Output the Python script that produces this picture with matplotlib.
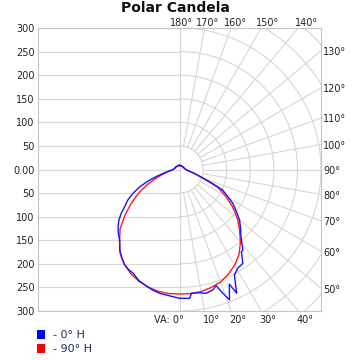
import numpy as np
import matplotlib
matplotlib.use("Agg")
import matplotlib.pyplot as plt
from matplotlib.patches import Patch

# vertical angle (deg, 0 = straight down) and candela
# blue = 0° H plane, right half and left half
blue_r_ang = [0, 4.5, 5.5, 9, 12, 15.4, 17.5, 19.3, 21, 23.5, 24.8, 27.5, 30.5, 34, 37, 38.2,
              42.5, 46, 50, 54, 57.6, 61, 64.6, 67.5, 70, 75, 80, 85, 90, 100, 120, 140, 160, 180]
blue_r_cd = [273, 274, 264, 264.5, 268.5, 265, 258, 278, 296, 265, 289, 252, 243, 240, 218, 217,
             193, 180, 166, 148, 134, 116, 101, 72, 52, 33, 22, 16, 14, 11, 10, 9, 9, 9]
blue_l_ang = [0, 3, 6, 9, 12.5, 15, 18, 20, 24, 27, 30, 33, 36.5, 40, 44, 47, 50, 53, 56,
              59.5, 63, 66.5, 70, 73, 76, 80, 85, 90, 100, 120, 140, 160, 180]
blue_l_cd = [273, 270, 267.5, 266, 262, 258, 253.5, 251, 241, 238, 233, 224, 213, 197, 187, 178,
             168, 155, 140, 127, 110, 92, 70, 52, 38, 26, 18, 14, 11, 10, 9, 9, 9]

# red = 90° H plane
red_ang = [0, 5, 10, 15, 20, 25, 30, 35, 40, 45, 50, 55, 60, 65, 70, 75, 80, 85, 90,
           100, 120, 140, 160, 180]
red_r_cd = [264, 264, 263, 259, 254, 245, 234, 220, 201, 180, 160, 137, 113, 90, 52, 33, 22, 16, 13,
            11, 9, 8, 8, 8]
red_l_cd = [264, 264, 262, 258, 252, 244, 233, 219, 198, 178, 151, 125, 100, 75, 52, 34, 23, 17, 13,
            11, 9, 8, 8, 8]

r_ticks = [-300, -250, -200, -150, -100, -50, 0, 50, 100, 150, 200, 250, 300]
r_labels = ["300", "250", "200", "150", "100", "50", "0.00", "50", "100", "150", "200", "250", "300"]
top_angles = [180, 170, 160, 150, 140]
side_angles = [130, 120, 110, 100, 90, 80, 70, 60, 50]
bottom_angles = [10, 20, 30, 40]

gridc = "#d6d6d6"
txtc = "#222222"


def to_xy(ang, cd, side):
    a = np.deg2rad(np.array(ang, dtype=float))
    cd = np.array(cd, dtype=float)
    return side * cd * np.sin(a), -cd * np.cos(a)


def whole_curve(ang_l, cd_l, ang_r, cd_r):
    xl, yl = to_xy(ang_l, cd_l, -1)
    xr, yr = to_xy(ang_r, cd_r, 1)
    return np.concatenate([xl[::-1], xr]), np.concatenate([yl[::-1], yr])


fig = plt.figure(figsize=(3.6, 3.6), dpi=100)
ax = fig.add_axes([38 / 360, 1 - 311 / 360, 283 / 360, 283 / 360])
ax.set_xlim(-300, 300)
ax.set_ylim(-300, 300)

# left half: plain horizontal lines
for v in r_ticks:
    ax.plot([-300, 0], [v, v], color=gridc, lw=0.8, zorder=1)
ax.plot([0, 0], [-300, 300], color=gridc, lw=0.8, zorder=1)

# right half: polar grid
t = np.linspace(0, np.pi, 200)
for rr in range(50, 450, 50):
    ax.plot(rr * np.sin(t), -rr * np.cos(t), color=gridc, lw=0.8, zorder=1)
for a in range(10, 180, 10):
    aa = np.deg2rad(a)
    ax.plot([50 * np.sin(aa), 700 * np.sin(aa)], [-50 * np.cos(aa), -700 * np.cos(aa)],
            color=gridc, lw=0.8, zorder=1)

xr, yr = whole_curve(red_ang, red_l_cd, red_ang, red_r_cd)
ax.plot(xr, yr, color="#ff1a1a", lw=1.0, zorder=3)
xb, yb = whole_curve(blue_l_ang, blue_l_cd, blue_r_ang, blue_r_cd)
ax.plot(xb, yb, color="#1414ff", lw=1.0, zorder=4)

ax.set_xticks([])
ax.set_yticks(r_ticks)
ax.set_yticklabels(r_labels)
ax.tick_params(axis="y", length=0, pad=2.5, labelsize=7, labelcolor=txtc)
for s in ax.spines.values():
    s.set_color("#c4c4c4")
    s.set_linewidth(0.8)

# angle labels around the frame
for a in top_angles:
    x = 300 * np.tan(np.deg2rad(180 - a))
    ax.text(x + 4 + 0.05 * x, 311, f"{a}°", ha="center", va="center", fontsize=7, color=txtc,
            clip_on=False)
for a in side_angles:
    y = 300 * np.tan(np.deg2rad(a - 90))
    ax.text(304, y - 3, f"{a}°", ha="left", va="center", fontsize=7, color=txtc, clip_on=False)
for a in bottom_angles:
    x = 300 * np.tan(np.deg2rad(a))
    ax.text(x + 14, -319, f"{a}°", ha="center", va="center", fontsize=7, color=txtc, clip_on=False)
ax.text(8, -319, "VA: 0°", ha="right", va="center", fontsize=7, color=txtc, clip_on=False)

fig.text(0.487, 0.978, "Polar Candela", ha="center", va="center", fontsize=10,
         fontweight="bold", color="#111111")

handles = [Patch(facecolor="#0000ff", edgecolor="none", label="- 0° H"),
           Patch(facecolor="#ff0000", edgecolor="none", label="- 90° H")]
leg = fig.legend(handles=handles, loc="upper left", bbox_to_anchor=(0.103, 0.083),
                 frameon=False, fontsize=8, handlelength=0.7, handleheight=0.85,
                 handletextpad=0.75, labelspacing=0.33, borderpad=0, borderaxespad=0)
for tx in leg.get_texts():
    tx.set_color("#1e2a66")

fig.savefig("out.png", dpi=100)
